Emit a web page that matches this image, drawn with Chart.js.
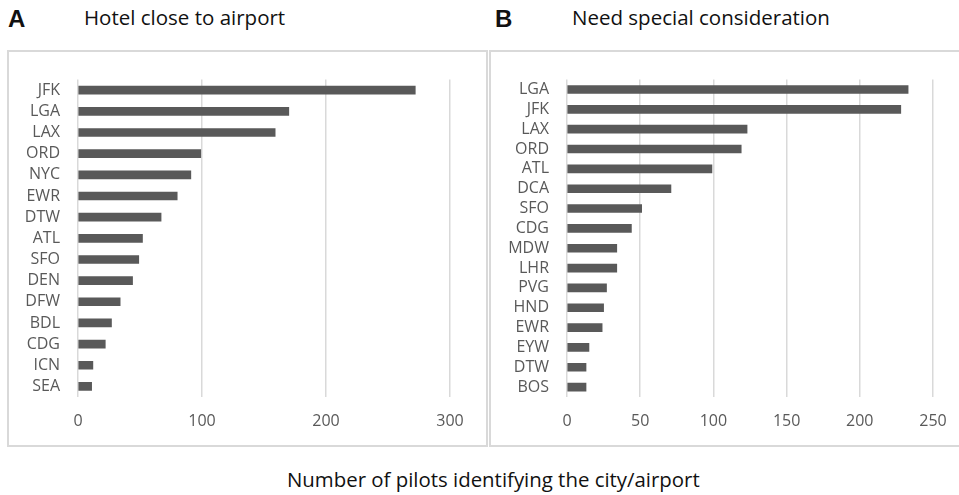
<!DOCTYPE html>
<html>
<head>
<meta charset="utf-8">
<script src="https://cdn.jsdelivr.net/npm/chart.js@4"></script>
<style>
  body { margin: 0; background: #fff; width: 959px; height: 495px; position: relative; overflow: hidden; font-family: "Open Sans", sans-serif; }
  .box { position: absolute; border: 2px solid #d9d9d9; box-sizing: border-box; }
  .letter { position: absolute; font: bold 24px "Liberation Sans", Arial, sans-serif; color: #111; }
  .title { position: absolute; font-size: 20.5px; color: #111; }
  .xlabel { position: absolute; left: 287px; top: 465px; white-space: nowrap; font-size: 20.4px; color: #111; }
</style>
</head>
<body>
<div class="letter" style="left:8px; top:5px;">A</div>
<div class="title" style="left:84px; top:3px;">Hotel close to airport</div>
<div class="letter" style="left:495px; top:5px;">B</div>
<div class="title" style="left:572px; top:3px;">Need special consideration</div>

<div class="box" style="left:7px; top:50px; width:481px; height:397px;">
  <canvas id="chartA"></canvas>
</div>
<div class="box" style="left:489px; top:50px; width:480px; height:397px;">
  <canvas id="chartB"></canvas>
</div>
<div class="xlabel">Number of pilots identifying the city/airport</div>

<script>
// DATA - panel A
const hotelLabels = ["JFK", "LGA", "LAX", "ORD", "NYC", "EWR", "DTW", "ATL", "SFO", "DEN", "DFW", "BDL", "CDG", "ICN", "SEA"];
const hotelValues = [272, 170, 159, 99, 91, 80, 67, 52, 49, 44, 34, 27, 22, 12, 11];
const hotelTicks = [0, 100, 200, 300];

// DATA - panel B
const specialLabels = ["LGA", "JFK", "LAX", "ORD", "ATL", "DCA", "SFO", "CDG", "MDW", "LHR", "PVG", "HND", "EWR", "EYW", "DTW", "BOS"];
const specialValues = [233, 228, 123, 119, 99, 71, 51, 44, 34, 34, 27, 25, 24, 15, 13, 13];
const specialTicks = [0, 50, 100, 150, 200, 250];

const tickFont = { family: "Open Sans", size: 16 };

function makeChart(id, labels, values, ticks, opts) {
  const canvas = document.getElementById(id);
  canvas.width = opts.w;
  canvas.height = opts.h;
  canvas.style.width = opts.w + "px";
  canvas.style.height = opts.h + "px";
  return new Chart(canvas, {
    type: "bar",
    data: {
      labels,
      datasets: [{ data: values, backgroundColor: "#595959", barThickness: 8 }]
    },
    options: {
      indexAxis: "y",
      responsive: false,
      animation: false,
      layout: { padding: { top: opts.top, right: opts.right, left: 0, bottom: 0 } },
      plugins: { legend: { display: false }, tooltip: { enabled: false } },
      scales: {
        x: {
          min: 0,
          max: ticks[ticks.length - 1],
          afterBuildTicks: (s) => { s.ticks = ticks.map(v => ({ value: v })); },
          afterFit: (s) => { s.height = opts.xh; },
          grid: { color: "#d9d9d9", lineWidth: 1.5, drawTicks: false },
          border: { display: false },
          ticks: { color: "#595959", font: tickFont, padding: 15 }
        },
        y: {
          afterFit: (s) => { s.width = opts.yw; },
          grid: { display: false, drawTicks: false },
          border: { display: false },
          ticks: { color: "#595959", font: tickFont, padding: 18, autoSkip: false }
        }
      }
    }
  });
}

makeChart("chartA", hotelLabels, hotelValues, hotelTicks, { w: 477, h: 393, top: 22, right: 36, xh: 48, yw: 69 });
makeChart("chartB", specialLabels, specialValues, specialTicks, { w: 476, h: 393, top: 22, right: 34, xh: 48, yw: 76 });
</script>
</body>
</html>
